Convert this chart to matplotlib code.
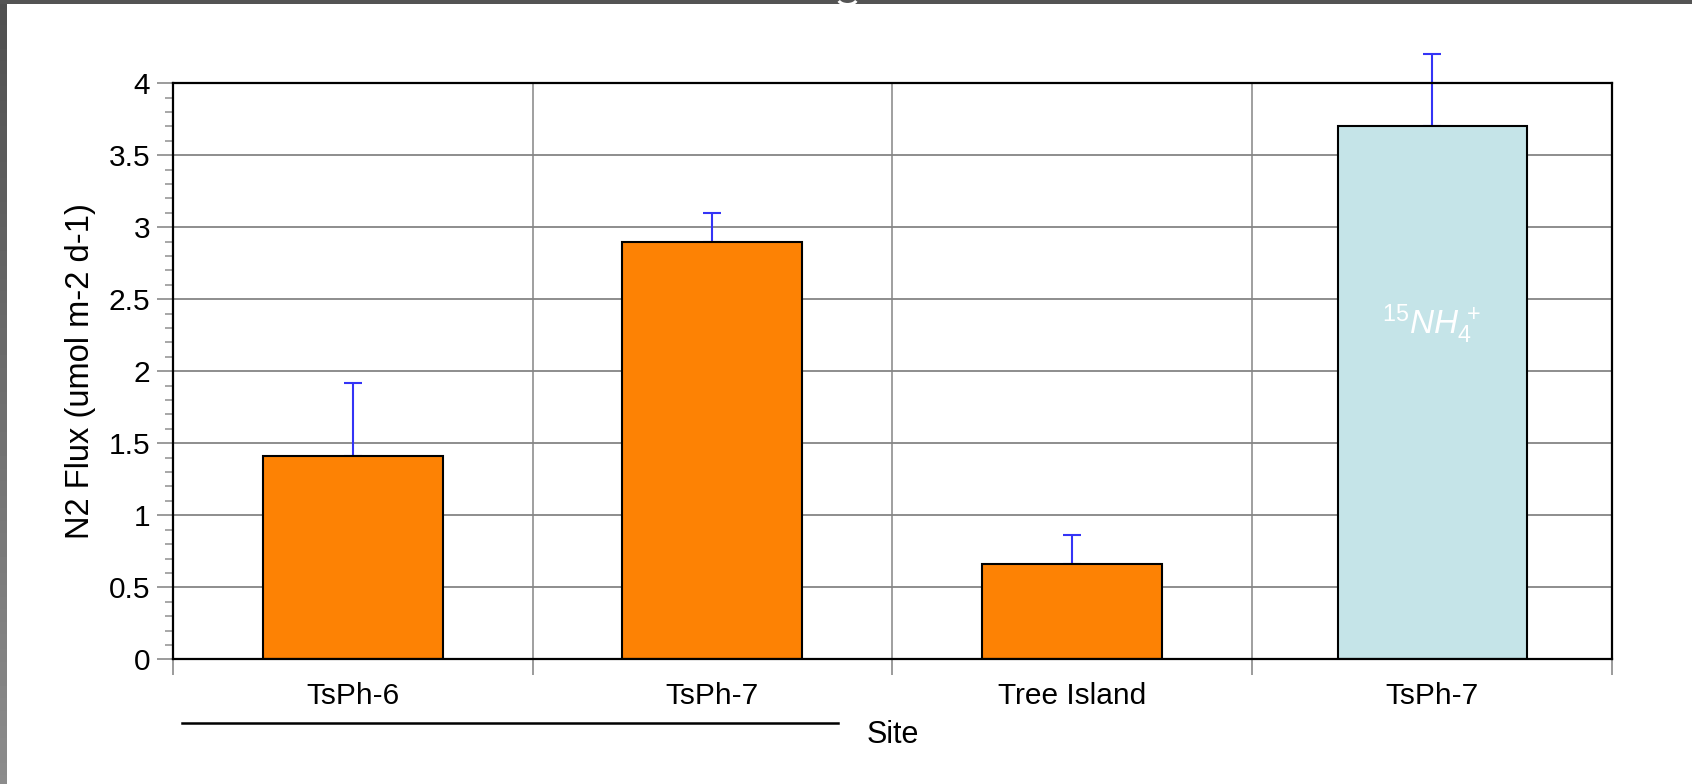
import numpy as np
import matplotlib
matplotlib.use("Agg")
import matplotlib.pyplot as plt
from matplotlib.patches import Rectangle, Arc
from matplotlib.lines import Line2D
import matplotlib.transforms as mtransforms

# ---- data -------------------------------------------------------------
sites = ["TsPh-6", "TsPh-7", "Tree Island", "TsPh-7"]
n2_flux = [1.41, 2.90, 0.66, 3.70]
flux_err = [0.51, 0.20, 0.20, 0.50]
bar_colors = ["#fd8204", "#fd8204", "#fd8204", "#c5e4e8"]
bar_widths = [0.5, 0.5, 0.5, 0.525]
y_ticks = [0, 0.5, 1, 1.5, 2, 2.5, 3, 3.5, 4]
y_tick_labels = ["0", "0.5", "1", "1.5", "2", "2.5", "3", "3.5", "4"]
tracer_label = r"$^{15}NH_{4}^{\,+}$"

plt.rcParams["font.family"] = ["Liberation Sans", "DejaVu Sans"]
plt.rcParams["mathtext.fontset"] = "custom"
plt.rcParams["mathtext.rm"] = "Liberation Sans"
plt.rcParams["mathtext.it"] = "Liberation Sans:italic"
plt.rcParams["mathtext.default"] = "it"

W, H, DPI = 1692, 784, 100
fig = plt.figure(figsize=(W / DPI, H / DPI), dpi=DPI, facecolor="white")

# frame bands along the top and left edges
band = fig.add_axes([0, 0, 6 / W, 1])
band.imshow(np.linspace(0x8c, 0x4f, 256).reshape(-1, 1), cmap="gray",
            vmin=0, vmax=255, aspect="auto", origin="lower")
band.set_axis_off()
fig.patches.append(Rectangle((0, 1 - 4 / H), 1, 4 / H, transform=fig.transFigure,
                             facecolor="#545454", edgecolor="none", zorder=1))
# light curl poking into the top band
fig.patches.append(Arc((847.5, H + 1.5), 19, 12, theta1=195, theta2=345,
                       transform=None, color="white", linewidth=2.2, zorder=2))

ax = fig.add_axes([172.7 / W, 1 - 659.3 / H, (1612 - 172.7) / W, (659.3 - 83.3) / H])
ax.set_facecolor("white")

x = np.arange(len(sites))
ax.bar(x, n2_flux, width=bar_widths, color=bar_colors, edgecolor="black",
       linewidth=1.5, zorder=3)
ax.errorbar(x, n2_flux, yerr=[np.zeros(len(x)), flux_err], fmt="none",
            ecolor="#3434f6", elinewidth=1.5, capsize=6.8, capthick=1.5,
            zorder=2.5, clip_on=False)

ax.text(x[3], 2.26, tracer_label, color="white", fontsize=24,
        ha="center", va="baseline", zorder=4)

ax.set_xlim(-0.5, 3.5)
ax.set_ylim(0, 4)

# y axis
ax.set_yticks(y_ticks)
ax.set_yticklabels(y_tick_labels)
ax.set_yticks(np.arange(0, 4.01, 0.1), minor=True)
ax.tick_params(axis="y", which="major", length=11.5, width=1.1, color="#808080",
               labelsize=21.5, pad=4.8, direction="out")
ax.tick_params(axis="y", which="minor", length=5.5, width=1.1, color="#909090",
               direction="out")

# x axis: boundary ticks, labels centred on the bars
ax.set_xticks(np.arange(-0.5, 3.6, 1.0))
ax.set_xticklabels([])
ax.set_xticks(x, minor=True)
ax.set_xticklabels(sites, minor=True)
ax.tick_params(axis="x", which="major", length=11.5, width=1.1, color="#808080",
               direction="out")
ax.tick_params(axis="x", which="minor", length=0, labelsize=21.5, pad=16)

# grid
for yv in y_ticks[1:-1]:
    ax.axhline(yv, color="#858585", linewidth=1.3, zorder=1)
for xv in np.arange(0.5, 3.0, 1.0):
    ax.axvline(xv, color="#858585", linewidth=1.1, zorder=1)

for s in ax.spines.values():
    s.set_linewidth(1.6)
    s.set_color("black")
    s.set_zorder(5)

ax.set_ylabel("N2 Flux (umol m-2 d-1)", fontsize=23.5)
ax.yaxis.set_label_coords((80 - 172.7) / (1612 - 172.7), 0.5)
ax.yaxis.label.set_verticalalignment("center")

ax.set_xlabel("Site", fontsize=22)
ax.xaxis.set_label_coords(0.5, (659.3 - 742.7) / 576.0)
ax.xaxis.label.set_verticalalignment("baseline")

# bracket under the first two sites
trans = mtransforms.blended_transform_factory(ax.transData, ax.transAxes)
ax.add_line(Line2D([-0.474, 1.349], [(659.3 - 723.3) / 576.0] * 2, transform=trans,
                   color="black", linewidth=1.8, clip_on=False))

fig.savefig("out.png", dpi=DPI, facecolor="white")
